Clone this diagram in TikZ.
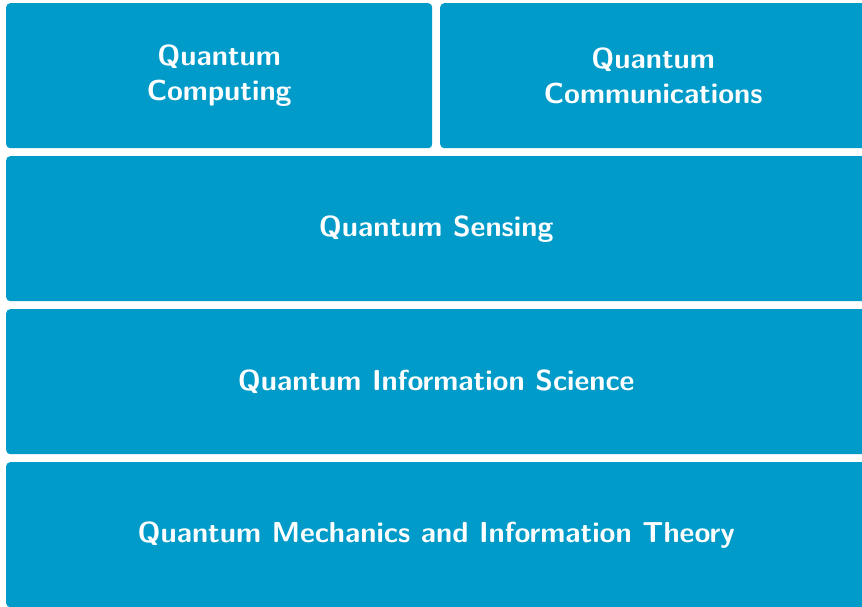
\documentclass[tikz,border=0pt]{standalone}
\definecolor{qblue}{RGB}{0,155,201}
\tikzset{
  layer/.style={fill=qblue, draw=none, rounded corners=4pt, anchor=north west,
    text=white, align=center, inner sep=0pt,
    font=\fontsize{28.9}{35.5}\selectfont\sffamily\bfseries}
}
\begin{document}
\begin{tikzpicture}[x=1pt,y=-1pt]
\useasboundingbox (0,0) rectangle (862,606);
\clip (0,0) rectangle (862,606);
\node[layer, minimum width=426pt, minimum height=145pt] (qc) at (6,3) {Quantum\\Computing};
\node[layer, minimum width=426pt, minimum height=145pt] (qcom) at (440,3) {Quantum\\Communications};
\node[layer, minimum width=860pt, minimum height=145pt] (qs) at (6,156) {Quantum Sensing};
\node[layer, minimum width=860pt, minimum height=145pt] (qis) at (6,309) {Quantum Information Science};
\node[layer, minimum width=860pt, minimum height=145pt] (qm) at (6,462) {Quantum Mechanics and Information Theory};
\end{tikzpicture}
\end{document}
